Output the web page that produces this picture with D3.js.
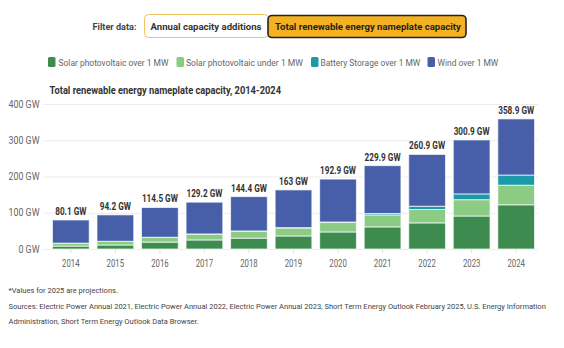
<!DOCTYPE html>
<html><head><meta charset="utf-8">
<script src="https://cdn.jsdelivr.net/npm/d3@7"></script>
<style>
body{margin:0;background:#fff;}
svg{display:block;}
text{font-family:Roboto,"Liberation Sans",sans-serif;}
</style></head><body>
<svg id="c" width="564" height="348"></svg>
<script>
const years = ["2014","2015","2016","2017","2018","2019","2020","2021","2022","2023","2024"];
const totals = [80.1,94.2,114.5,129.2,144.4,163,192.9,229.9,260.9,300.9,358.9];
const totalLabels = ["80.1 GW","94.2 GW","114.5 GW","129.2 GW","144.4 GW","163 GW","192.9 GW","229.9 GW","260.9 GW","300.9 GW","358.9 GW"];
const solarOver = [8,11,19,25,30,36,47,61,72,91,122];
const solarUnder = [8,10,13,16,19,22,26,33,37,45,54];
const battery = [0.2,0.3,0.5,0.6,0.8,1,1.5,4,9,16,28];
const wind = totals.map((t,i)=>+(t-solarOver[i]-solarUnder[i]-battery[i]).toFixed(1));
const seriesNames = ["Solar photovoltaic over 1 MW","Solar photovoltaic under 1 MW","Battery Storage over 1 MW","Wind over 1 MW"];
const seriesColors = ["#3e8b50","#8ccb84","#1c9aa7","#465fa8"];
const yTicks = [0,100,200,300,400];
const yTickLabels = ["0 GW","100 GW","200 GW","300 GW","400 GW"];

const svg = d3.select("#c");
const x = d3.scaleBand().domain(years).range([48,539]).paddingInner(0.175).paddingOuter(0.1);
const y = d3.scaleLinear().domain([0,400]).range([249,104]);

function natural(g, str, attrs){
  const t = g.append("text").text(str);
  Object.entries(attrs||{}).forEach(([k,v])=>t.attr(k,v));
  const w = t.node().getComputedTextLength(); t.remove(); return w;
}
// place text condensed to a given width; anchor converts to start
function fitText(g, str, ax, ay, width, anchor, attrs){
  const t = g.append("text").attr("y",ay).text(str);
  Object.entries(attrs||{}).forEach(([k,v])=>t.attr(k,v));
  const x0 = anchor==="middle" ? ax - width/2 : anchor==="end" ? ax - width : ax;
  t.attr("x",x0).attr("textLength",width).attr("lengthAdjust","spacingAndGlyphs");
  return t;
}
// place text by choosing a font size so its natural width equals the target
function sizeText(g, str, ax, ay, width, attrs){
  const base = attrs["font-size"];
  const w0 = natural(g,str,attrs);
  const fs = base*width/w0;
  const t = g.append("text").attr("x",ax).attr("y",ay).text(str);
  Object.entries(attrs).forEach(([k,v])=>t.attr(k,v));
  t.attr("font-size",fs.toFixed(2));
  return t;
}

// filter header
const hb = {"font-size":12,"font-weight":"bold"};
sizeText(svg,"Filter data:",92.5,29.5,44,Object.assign({fill:"#444"},hb));
svg.append("rect").attr("x",144.5).attr("y",14.5).attr("width",124).attr("height",23).attr("rx",4)
  .attr("fill","#fff").attr("stroke","#f0c25c").attr("stroke-width",1);
sizeText(svg,"Annual capacity additions",150.5,29.5,111,Object.assign({fill:"#333"},hb));
svg.append("rect").attr("x",268).attr("y",15.5).attr("width",198).attr("height",22).attr("rx",4)
  .attr("fill","#f4b223").attr("stroke","#222").attr("stroke-width",1.6);
sizeText(svg,"Total renewable energy nameplate capacity",275,29.5,186,Object.assign({fill:"#222"},hb));

// legend
const legX = [48,176.5,311,427.5];
const legTextX = [58.5,186,320.5,437.5];
const legW = [110,117,100,61];
const lg = svg.append("g");
seriesNames.forEach((n,i)=>{
  lg.append("rect").attr("x",legX[i]).attr("y",57).attr("width",7.5).attr("height",10).attr("rx",1.5).attr("fill",seriesColors[i]);
  sizeText(lg,n,legTextX[i],65.5,legW[i],{"font-size":11,fill:"#666"});
});

// title
fitText(svg,"Total renewable energy nameplate capacity, 2014-2024",49.5,94,231.5,"start",
  {"font-size":11.5,"font-weight":"bold",fill:"#333"});

// grid
svg.append("g").selectAll("line").data(yTicks).join("line")
  .attr("x1",43).attr("x2",538).attr("y1",d=>y(d)+0.5).attr("y2",d=>y(d)+0.5)
  .attr("stroke","#ececec").attr("stroke-width",1);
const yl = svg.append("g");
const yAttrs = {"font-size":10,fill:"#666"};
const yF = 31/natural(yl,"400 GW",yAttrs);
yTicks.forEach((d,i)=>{
  fitText(yl,yTickLabels[i],39.5,y(d)+3.5,natural(yl,yTickLabels[i],yAttrs)*yF,"end",yAttrs);
});

// x axis ticks
const xa = svg.append("g").attr("transform","translate(0,249)")
  .call(d3.axisBottom(x).tickSize(4).tickSizeOuter(0).tickFormat(""));
xa.select(".domain").remove();
xa.selectAll("line").attr("stroke","#ddd");
const xl = svg.append("g");
const xAttrs = {"font-size":10.5,fill:"#666"};
const xF = 17.5/natural(xl,"2014",xAttrs);
years.forEach(yr=>{
  fitText(xl,yr,x(yr)+x.bandwidth()/2,266.5,natural(xl,yr,xAttrs)*xF,"middle",xAttrs);
});

// stack
const data = years.map((yr,i)=>({year:yr,s0:solarOver[i],s1:solarUnder[i],s2:battery[i],s3:wind[i]}));
const stack = d3.stack().keys(["s0","s1","s2","s3"])(data);
svg.append("g").selectAll("g").data(stack).join("g").attr("fill",(d,i)=>seriesColors[i])
  .selectAll("rect").data(d=>d).join("rect")
  .attr("x",d=>x(d.data.year)).attr("width",x.bandwidth())
  .attr("y",d=>y(d[1])).attr("height",d=>Math.max(0,y(d[0])-y(d[1])))
  .attr("stroke","#fff").attr("stroke-opacity",0.7).attr("stroke-width",1);

// totals
const tl = svg.append("g");
const tAttrs = {"font-size":10.5,"font-weight":"bold",fill:"#333"};
const tF = 36/natural(tl,"358.9 GW",tAttrs);
years.forEach((yr,i)=>{
  fitText(tl,totalLabels[i],x(yr)+x.bandwidth()/2,y(totals[i])-5,natural(tl,totalLabels[i],tAttrs)*tF,"middle",tAttrs);
});

// footnotes
const notes = ["*Values for 2025 are projections.",
 "Sources: Electric Power Annual 2021, Electric Power Annual 2022, Electric Power Annual 2023, Short Term Energy Outlook February 2025, U.S. Energy Information",
 "Administration, Short Term Energy Outlook Data Browser."];
const noteY = [293,308.5,324];
const fnAttrs = {"font-size":9,fill:"#444"};
const fnSize = 9*538/natural(svg,notes[1],fnAttrs);
notes.forEach((t,i)=>svg.append("text").attr("x",8.5).attr("y",noteY[i]).attr("font-size",fnSize.toFixed(2))
  .attr("fill","#444").text(t));
</script>
</body></html>
